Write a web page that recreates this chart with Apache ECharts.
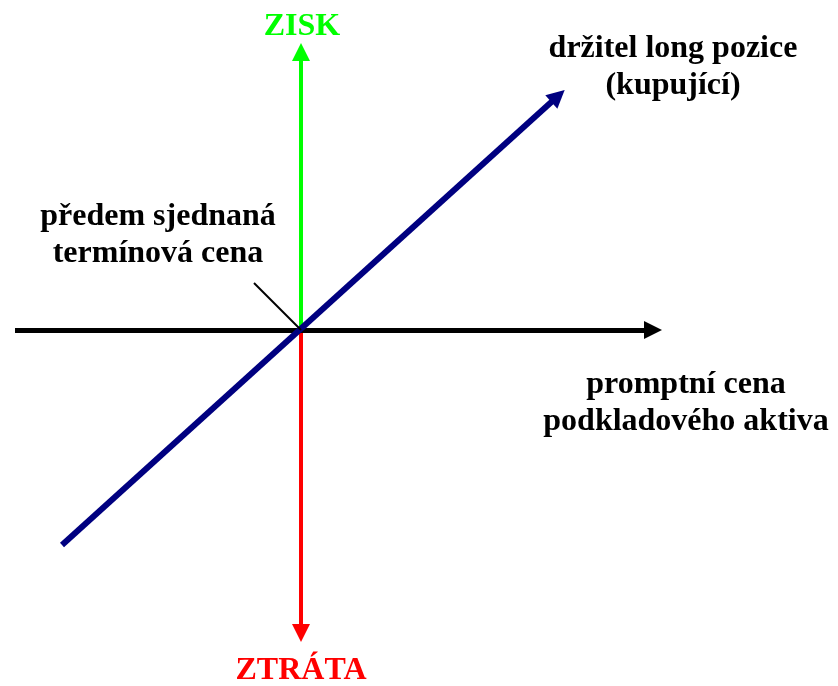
<!DOCTYPE html>
<html>
<head>
<meta charset="utf-8">
<title>Long forward payoff</title>
<script src="https://cdn.jsdelivr.net/npm/echarts@6/dist/echarts.min.js"></script>
<style>
  html, body { margin: 0; padding: 0; background: #ffffff; }
  #chart { width: 838px; height: 686px; }
</style>
</head>
<body>
<div id="chart"></div>
<script>
// Diagram units: origin = agreed forward price (K), x = spot price, y = profit / loss.
const xRange = [-301, 537];
const yRange = [-356, 330];

// Axis segments [start, end]; the arrowhead sits on the end point
const priceAxisLine = [[-286, 0], [352, 0]];
const profitAxisLine = [[0, 0], [0, 278]];
const lossAxisLine = [[0, 0], [0, -303]];

// Payoff of the long forward holder, passes through zero at K
const longPayoffLine = [[-239, -215], [257, 234]];

// Leader from the strike label to the origin
const strikeLeader = [[-47, 47], [0, 0]];

// Texts
const profitLabel = 'ZISK';
const lossLabel = 'ZTRÁTA';
const longLabel = 'držitel long pozice\n(kupující)';
const strikeLabel = 'předem sjednaná\ntermínová cena';
const priceLabel = 'promptní cena\npodkladového aktiva';

const FONT = "'Liberation Serif', 'Times New Roman', serif";

function segment(name, coords, color, width, arrowSize) {
  return {
    name: name,
    type: 'lines',
    coordinateSystem: 'cartesian2d',
    polyline: false,
    silent: true,
    symbol: arrowSize ? ['none', 'triangle'] : ['none', 'none'],
    symbolSize: arrowSize || 0,
    lineStyle: { color: color, width: width, opacity: 1, type: 'solid' },
    itemStyle: { color: color },
    data: [{ coords: coords }]
  };
}

const chart = echarts.init(document.getElementById('chart'), null, { renderer: 'canvas' });

function textEl(text, x, y, color) {
  return {
    type: 'text',
    x: x,
    y: y,
    silent: true,
    style: {
      text: text,
      fill: color,
      font: 'bold 32px ' + FONT,
      align: 'center',
      verticalAlign: 'middle',
      lineHeight: 37
    }
  };
}

chart.setOption({
  backgroundColor: '#ffffff',
  animation: false,
  grid: { left: 0, right: 0, top: 0, bottom: 0, containLabel: false },
  xAxis: { type: 'value', min: xRange[0], max: xRange[1], show: false, splitLine: { show: false } },
  yAxis: { type: 'value', min: yRange[0], max: yRange[1], show: false, splitLine: { show: false } },
  series: [
    segment('zisk', profitAxisLine, '#00ff00', 4, 18),
    segment('ztrata', lossAxisLine, '#ff0000', 4, 18),
    segment('cena', priceAxisLine, '#000000', 5, 18),
    segment('long', longPayoffLine, '#000080', 6, 18),
    segment('K', strikeLeader, '#000000', 2, 0)
  ],
  graphic: [
    textEl(profitLabel, 302, 27, '#00ff00'),
    textEl(lossLabel, 301, 671, '#ff0000'),
    textEl(longLabel, 673, 67, '#000000'),
    textEl(strikeLabel, 158, 235, '#000000'),
    textEl(priceLabel, 686, 403, '#000000')
  ]
});
</script>
</body>
</html>
